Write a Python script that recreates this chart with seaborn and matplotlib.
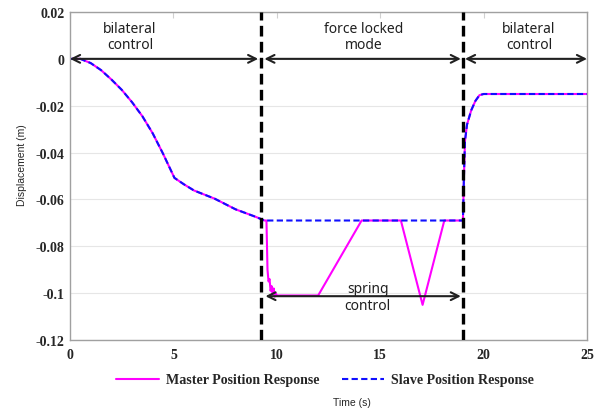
import numpy as np
import pandas as pd
import matplotlib
matplotlib.use("Agg")
import matplotlib.pyplot as plt
import seaborn as sns

# --- data -------------------------------------------------------------
# bilateral control phase (master and slave coincide)
t_bilateral = [0.0, 0.5, 1.0, 1.5, 2.0, 2.5, 3.0, 3.5, 4.0, 4.5, 5.05,
               5.5, 6.0, 7.0, 8.0, 9.0, 9.4]
y_bilateral = [0.0, 0.0, -0.0018, -0.0048, -0.0088, -0.0132, -0.0185,
               -0.0245, -0.0318, -0.0405, -0.0508, -0.0535, -0.0562,
               -0.0597, -0.0642, -0.0675, -0.069]

# force locked mode: master under spring control
t_master_locked = [9.5, 9.55, 9.6, 9.65, 9.7, 9.75, 9.8, 9.85, 9.9, 9.95,
                   10.0, 12.0, 14.1, 16.0, 17.05, 18.1, 19.0]
y_master_locked = [-0.069, -0.090, -0.095, -0.094, -0.099, -0.097, -0.1005,
                   -0.098, -0.1015, -0.100, -0.101, -0.101, -0.069, -0.069,
                   -0.105, -0.069, -0.069]

# force locked mode: slave held in place
t_slave_locked = [9.5, 19.0]
y_slave_locked = [-0.069, -0.069]

# return to bilateral control
t_return = [19.05, 19.1, 19.2, 19.4, 19.6, 19.8, 20.0, 25.0]
y_return = [-0.050, -0.035, -0.028, -0.022, -0.018, -0.0155, -0.015, -0.015]

mode_switch_times = [9.25, 19.0]
x_ticks = [0, 5, 10, 15, 20, 25]
y_ticks = [0.02, 0, -0.02, -0.04, -0.06, -0.08, -0.1, -0.12]
y_tick_labels = ["0.02", "0", "-0.02", "-0.04", "-0.06", "-0.08", "-0.1", "-0.12"]
series_names = ["Master Position Response", "Slave Position Response"]

master = pd.DataFrame({
    "t": t_bilateral + t_master_locked + t_return,
    "y": y_bilateral + y_master_locked + y_return,
})
slave = pd.DataFrame({
    "t": t_bilateral + t_slave_locked + t_return,
    "y": y_bilateral + y_slave_locked + y_return,
})

# --- figure -----------------------------------------------------------
sns.set_style("white")
fig = plt.figure(figsize=(6.02, 4.14), dpi=100)
ax = fig.add_axes([70 / 602, 1 - 341 / 414, 517 / 602, 328 / 414])

sns.lineplot(data=master, x="t", y="y", ax=ax, sort=False, estimator=None,
             color="#ff00ff", lw=1.5, label=series_names[0])
sns.lineplot(data=slave, x="t", y="y", ax=ax, sort=False, estimator=None,
             color="#1010ff", lw=1.5, linestyle=(0, (3, 1.6)),
             label=series_names[1])

for xs in mode_switch_times:
    ax.axvline(xs, color="black", lw=2.4, linestyle=(0, (3.2, 1.6)), zorder=5)

ax.set_xlim(0, 25)
ax.set_ylim(-0.12, 0.02)
ax.set_xticks(x_ticks)
ax.set_yticks(y_ticks)
ax.set_xticklabels([str(v) for v in x_ticks])
ax.set_yticklabels(y_tick_labels)
ax.yaxis.grid(True, color="#e6e6e6", lw=0.8)
ax.set_axisbelow(True)
for sp in ax.spines.values():
    sp.set_color("#a0a0a0")
    sp.set_linewidth(1.0)
ax.tick_params(axis="x", direction="in", top=True, length=4, color="#d0d0d0",
               pad=6)
ax.tick_params(axis="y", direction="in", length=0, pad=4)
for lab in ax.get_xticklabels() + ax.get_yticklabels():
    lab.set_fontfamily("Liberation Serif")
    lab.set_fontweight("bold")
    lab.set_fontsize(10)
ax.set_xlabel("")
ax.set_ylabel("")

# phase arrows and annotations
arrow_kw = dict(arrowstyle="<->", color="#202020", lw=1.5, mutation_scale=14,
                shrinkA=0, shrinkB=0)
for x0, x1 in [(0.0, 9.1), (9.4, 18.9), (19.1, 25.0)]:
    ax.annotate("", xy=(x0, 0.0), xytext=(x1, 0.0), arrowprops=arrow_kw,
                annotation_clip=False, zorder=6)
ax.annotate("", xy=(9.45, -0.1013), xytext=(18.9, -0.1013),
            arrowprops=arrow_kw, zorder=6)

txt_kw = dict(ha="center", va="center", fontsize=10, color="#202020",
              fontfamily="Noto Sans", linespacing=1.15)
ax.text(2.9, 0.0095, "bilateral\ncontrol", **txt_kw)
ax.text(14.2, 0.0095, "force locked\nmode", **txt_kw)
ax.text(22.2, 0.0095, "bilateral\ncontrol", **txt_kw)
ax.text(14.4, -0.1017, "spring\ncontrol", zorder=7, **txt_kw)

# legend and axis labels below the axes
handles, labels = ax.get_legend_handles_labels()
ax.get_legend().remove()
fig.legend(handles, labels, loc="center", bbox_to_anchor=(325 / 602, 1 - 381 / 414),
           ncol=2, frameon=False, handlelength=3.0, handletextpad=0.5,
           columnspacing=1.6,
           prop={"family": "Liberation Serif", "weight": "bold", "size": 10.1})
fig.text(352 / 602, 1 - 403 / 414, "Time (s)", ha="center", va="center",
         fontsize=7.5, fontfamily="Liberation Sans")
fig.text(22 / 602, 1 - 165 / 414, "Displacement (m)", ha="center", va="center",
         rotation=90, fontsize=7.5, fontfamily="Liberation Sans")

fig.savefig("out.png", dpi=100)
